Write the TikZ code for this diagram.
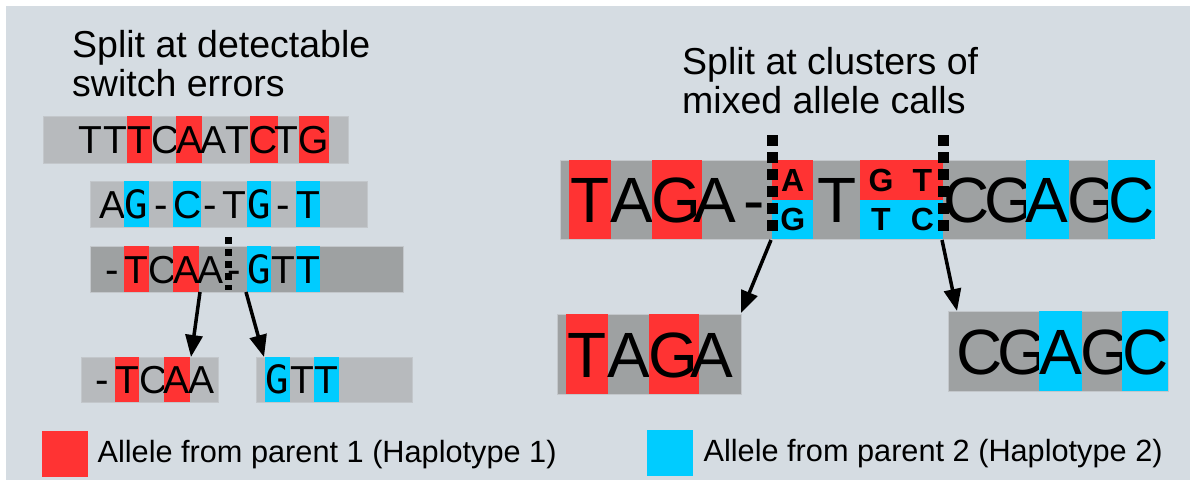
\documentclass[tikz,border=0pt]{standalone}
\usepackage{fontspec}
\setmainfont{Liberation Sans}
\newfontfamily\monofont{DejaVu Sans Mono}
\usetikzlibrary{arrows.meta, positioning}
\definecolor{bgcol}{HTML}{D5DCE2}
\definecolor{hapone}{HTML}{FF3333}
\definecolor{haptwo}{HTML}{00CCFF}
\definecolor{seqlight}{HTML}{B7BABD}
\definecolor{seqdark}{HTML}{9EA1A2}
\definecolor{seqedge}{HTML}{C3C7CB}
\tikzset{
  seqbox/.style={rectangle, draw=seqedge, line width=0.8pt, anchor=north west,
                 inner sep=0pt},
  lbox/.style={seqbox, fill=seqlight},
  dbox/.style={seqbox, fill=seqdark},
  nt/.style={rectangle, anchor=north west, inner sep=0pt, minimum width=24.5pt,
             minimum height=46pt, font=\fontsize{39}{39}\selectfont,
             text height=28pt, text depth=0pt},
  bignt/.style={rectangle, anchor=north west, inner sep=0pt, minimum width=41.5pt,
                minimum height=79pt, font=\fontsize{64}{64}\selectfont,
                text height=46pt, text depth=0pt},
  mix/.style={rectangle, anchor=north west, inner sep=0pt, minimum width=41pt,
              minimum height=39.5pt, font=\bfseries\fontsize{32}{32}\selectfont,
              text height=23pt, text depth=0pt},
  splitline/.style={line width=7pt, dash pattern=on 7pt off 5pt},
  bigsplit/.style={line width=11pt, dash pattern=on 11pt off 6pt},
  arr/.style={line width=3.5pt, -{Triangle[length=22pt,width=17pt]}},
  heading/.style={align=left, anchor=north west, inner sep=0pt,
                  font=\fontsize{37.5}{39}\selectfont},
  swatch/.style={rectangle, anchor=north west, minimum size=46pt, inner sep=0pt},
  keytext/.style={inner sep=0pt, anchor=west, font=\fontsize{30.7}{32}\selectfont},
}
\begin{document}
\begin{tikzpicture}[x=1pt, y=-1pt]
  \useasboundingbox (0,0) rectangle (1190,480);
  \fill[white] (0,0) rectangle (1190,480);
  \fill[bgcol] (6,6) rectangle (1190,480);

  % detectable switch errors
  \node[heading] (t1) at (72,30) {Split at detectable\\switch errors};
  \node[lbox, minimum width=305pt, minimum height=47pt] (r1) at (43,116) {};
  \foreach \ch/\c [count=\i from 0] in {T/none,T/none,T/hapone,C/none,A/hapone,
      A/none,T/none,C/hapone,T/none,G/hapone}
    \node[nt, minimum height=47pt, fill=\c] at ({78+24.5*\i},116) {\ch};
  \node[lbox, minimum width=277pt, minimum height=46pt] (r2) at (90,181) {};
  \foreach \ch/\c [count=\i from 0] in {A/none,{\monofont G}/haptwo,{\monofont -}/none,
      C/haptwo,{\monofont -}/none,T/none,{\monofont G}/haptwo,{\monofont -}/none,T/haptwo}
    \node[nt, fill=\c] at ({99.5+24.5*\i},181) {\ch};
  \node[dbox, minimum width=313pt, minimum height=46pt] (r3) at (90,246) {};
  \foreach \ch/\c [count=\i from 0] in {{\monofont -}/none,T/hapone,C/none,A/hapone,
      A/none,{\monofont -}/none,{\monofont G}/haptwo,T/none,T/haptwo}
    \node[nt, fill=\c] at ({99.5+24.5*\i},246) {\ch};
  \draw[splitline] (228,237) -- (228,290);

  \node[lbox, minimum width=137pt, minimum height=45pt] (c1) at (81,357) {};
  \foreach \ch/\c [count=\i from 0] in {{\monofont -}/none,T/hapone,C/none,A/hapone,A/none}
    \node[nt, minimum height=45pt, fill=\c] at ({90+24.5*\i},357) {\ch};
  \node[lbox, minimum width=156pt, minimum height=45pt] (c2) at (256,357) {};
  \foreach \ch/\c [count=\i from 0] in {{\monofont G}/haptwo,T/none,T/haptwo}
    \node[nt, minimum height=45pt, fill=\c] at ({265+24.5*\i},357) {\ch};

  \coordinate (sa) at (200,292);
  \coordinate (sb) at (246,292);
  \coordinate (ta) at (191,357);
  \coordinate (tb) at (264,357);
  \draw[arr] (sa) -- (ta);
  \draw[arr] (sb) -- (tb);

  % mixed allele calls
  \node[heading] (t2) at (682,47) {Split at clusters of\\mixed allele calls};
  \node[dbox, minimum width=590pt, minimum height=79pt] (big) at (560,160) {};
  \foreach \ch/\c [count=\i from 0] in {T/hapone,A/none,G/hapone,A/none}
    \node[bignt, fill=\c] at ({569+41.3*\i},160) {\ch};
  \node[bignt, minimum width=37pt] at (735,160) {-};
  \node[mix, fill=hapone] (ma) at (772,160) {A};
  \node[mix, fill=haptwo] (mg) at (772,199.5) {G};
  \node[bignt, minimum width=47pt] at (813,160) {T};
  \node[mix, fill=hapone, minimum width=41.5pt] at (860,160) {G};
  \node[mix, fill=hapone, minimum width=41.5pt] at (901.5,160) {T};
  \node[mix, fill=haptwo, minimum width=41.5pt] at (860,199.5) {T};
  \node[mix, fill=haptwo, minimum width=41.5pt] at (901.5,199.5) {C};
  \foreach \ch/\c [count=\i from 0] in {C/none,G/none,A/haptwo,G/none,C/haptwo}
    \node[bignt, fill=\c] at ({943+41.3*\i},160) {\ch};
  \draw[bigsplit] (772,135) -- (772,232);
  \draw[bigsplit] (943,135) -- (943,232);

  \node[dbox, minimum width=184pt, minimum height=80pt] (b1) at (557,314) {};
  \foreach \ch/\c [count=\i from 0] in {T/hapone,A/none,G/hapone,A/none}
    \node[bignt, minimum height=80pt, fill=\c] at ({566+41.3*\i},314) {\ch};
  \node[dbox, minimum width=220pt, minimum height=80pt] (b2) at (948,311) {};
  \foreach \ch/\c [count=\i from 0] in {C/none,G/none,A/haptwo,G/none,C/haptwo}
    \node[bignt, minimum height=80pt, fill=\c] at ({956+41.5*\i},311) {\ch};

  \coordinate (sc) at (771,240);
  \coordinate (sd) at (942,240);
  \coordinate (tc) at (741,313);
  \coordinate (td) at (957,311);
  \draw[arr] (sc) -- (tc);
  \draw[arr] (sd) -- (td);

  % legend
  \node[swatch, fill=hapone] (k1) at (42,431) {};
  \node[keytext, right=9pt of k1] (l1) {Allele from parent 1 (Haplotype 1)};
  \node[swatch, fill=haptwo] (k2) at (647,430) {};
  \node[keytext, right=10pt of k2] (l2) {Allele from parent 2 (Haplotype 2)};
\end{tikzpicture}
\end{document}
